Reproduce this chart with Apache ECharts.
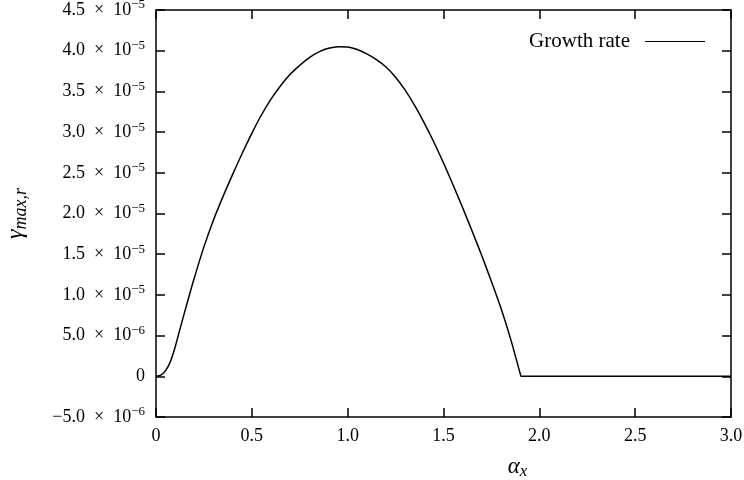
<!DOCTYPE html>
<html>
<head>
<meta charset="utf-8">
<script src="https://cdn.jsdelivr.net/npm/echarts@6/dist/echarts.min.js"></script>
<style>html,body{margin:0;padding:0;background:#fff;}#c{width:744px;height:480px;}</style>
</head>
<body>
<div id="c"></div>
<script>
// Data
var alphaX = [0, 0.025, 0.05, 0.075, 0.1, 0.125, 0.15, 0.175, 0.2, 0.25, 0.3, 0.35, 0.4, 0.45, 0.5, 0.55, 0.6, 0.65, 0.7, 0.75, 0.8, 0.85, 0.9, 0.95, 1.0, 1.05, 1.1, 1.15, 1.2, 1.25, 1.3, 1.35, 1.4, 1.45, 1.5, 1.55, 1.6, 1.65, 1.7, 1.75, 1.8, 1.85, 1.9, 1.905, 1.91, 2.0, 2.5, 3.0];
var growthRate = [0, 0.15e-6, 0.7e-6, 1.8e-6, 3.6e-6, 5.8e-6, 7.95e-6, 10.05e-6, 12.1e-6, 15.9e-6, 19.2e-6, 22.1e-6, 24.8e-6, 27.4e-6, 29.85e-6, 32.1e-6, 34.05e-6, 35.7e-6, 37.1e-6, 38.2e-6, 39.15e-6, 39.85e-6, 40.3e-6, 40.5e-6, 40.45e-6, 40.15e-6, 39.6e-6, 38.9e-6, 38.0e-6, 36.75e-6, 35.15e-6, 33.25e-6, 31.1e-6, 28.75e-6, 26.2e-6, 23.5e-6, 20.7e-6, 17.8e-6, 14.8e-6, 11.65e-6, 8.35e-6, 4.6e-6, 0.35e-6, 0, 0, 0, 0, 0];
var xTickLabels = ['0', '0.5', '1.0', '1.5', '2.0', '2.5', '3.0'];
var yTickMantissas = ['−5.0', '0', '5.0', '1.0', '1.5', '2.0', '2.5', '3.0', '3.5', '4.0', '4.5'];
var yTickExponents = ['−6', '', '−6', '−5', '−5', '−5', '−5', '−5', '−5', '−5', '−5'];
var seriesName = 'Growth rate';

var FONT = 'Liberation Serif';
var Y_MIN = -5e-6, Y_STEP = 5e-6;
function yLabel(v) {
  var i = Math.round((v - Y_MIN) / Y_STEP);
  var m = yTickMantissas[i], e = yTickExponents[i];
  if (m === undefined) return '';
  if (e === '') return '{b|' + m + '}';
  return '{b|' + m + '  ×  10}{s|' + e + '}';
}
var chart = echarts.init(document.getElementById('c'));
var data = alphaX.map(function (x, i) { return [x, growthRate[i]]; });
var axisLine = { show: true, onZero: false, lineStyle: { color: '#000', width: 1.5 } };
var tick = { show: true, inside: true, length: 9, lineStyle: { color: '#000', width: 1.5 } };
chart.setOption({
  animation: false,
  backgroundColor: '#fff',
  grid: { left: 156, right: 13, top: 10, bottom: 63, containLabel: false, outerBoundsMode: 'none' },
  legend: {
    right: 34, top: 26, align: 'right', itemWidth: 60, itemHeight: 10,
    icon: 'path://M0,5 L60,5 L60,6 L0,6 Z',
    textStyle: { fontFamily: FONT, fontSize: 21, color: '#000', padding: [0, 10, 0, 0] },
    data: [{ name: seriesName, itemStyle: { color: '#000' } }]
  },
  xAxis: [{
    type: 'value', min: 0, max: 3, interval: 0.5, position: 'bottom',
    axisLine: axisLine, axisTick: tick, splitLine: { show: false },
    axisLabel: { margin: 10, fontFamily: FONT, fontSize: 18, color: '#000',
      formatter: function (v) { return xTickLabels[Math.round(v / 0.5)]; } },
    name: '{a|α}{sub|x}', nameLocation: 'middle', nameGap: 36,
    nameTextStyle: { padding: [0, 0, 0, 148], rich: {
      a: { fontFamily: FONT, fontStyle: 'italic', fontSize: 23, color: '#000' },
      sub: { fontFamily: FONT, fontStyle: 'italic', fontSize: 17, color: '#000', padding: [10, 0, 0, 0] } } }
  }, {
    type: 'value', min: 0, max: 3, interval: 0.5, position: 'top',
    axisLine: axisLine, axisTick: tick, axisLabel: { show: false }, splitLine: { show: false }
  }],
  yAxis: [{
    type: 'value', min: Y_MIN, max: 4.5e-5, interval: Y_STEP, position: 'left',
    axisLine: axisLine, axisTick: tick, splitLine: { show: false },
    axisLabel: { margin: 11, formatter: yLabel, rich: {
      b: { fontFamily: FONT, fontSize: 18, color: '#000' },
      s: { fontFamily: FONT, fontSize: 13, color: '#000', verticalAlign: 'top', padding: [0, 0, 10, 0] } } },
    name: '{g|γ}{sub|max,r}', nameLocation: 'middle', nameGap: 126, nameRotate: 90,
    nameTextStyle: { rich: {
      g: { fontFamily: FONT, fontStyle: 'italic', fontSize: 24, color: '#000' },
      sub: { fontFamily: FONT, fontStyle: 'italic', fontSize: 18, color: '#000', padding: [10, 0, 0, 0] } } }
  }, {
    type: 'value', min: Y_MIN, max: 4.5e-5, interval: Y_STEP, position: 'right',
    axisLine: axisLine, axisTick: tick, axisLabel: { show: false }, splitLine: { show: false }
  }],
  series: [{
    name: seriesName, type: 'line', data: data, symbol: 'none', smooth: 0.3,
    lineStyle: { color: '#000', width: 1.5 }, itemStyle: { color: '#000' }
  }]
});
</script>
</body>
</html>
